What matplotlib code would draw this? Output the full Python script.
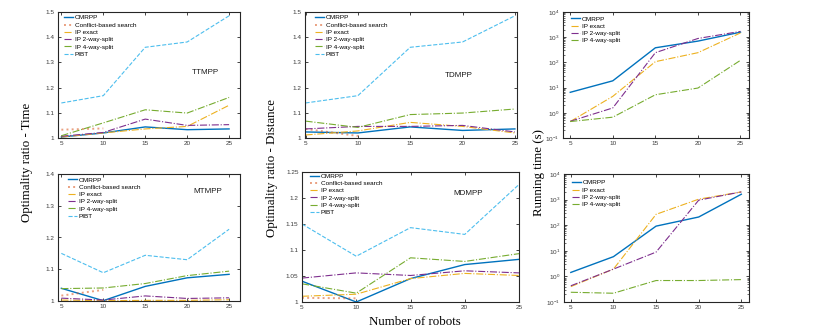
import matplotlib
matplotlib.use("Agg")
import matplotlib.pyplot as plt
from matplotlib.ticker import FuncFormatter, LogLocator, NullFormatter, FixedLocator

plt.rcParams['font.family'] = ['Liberation Sans', 'DejaVu Sans']

robots = [5, 10, 15, 20, 25]
robots_cbs = [5, 10]

# TTMPP (optimality ratio - time)
tt_omrpp = [1.004, 1.020, 1.044, 1.033, 1.036]
tt_cbs = [1.033, 1.038]
tt_ipexact = [1.004, 1.020, 1.036, 1.046, 1.130]
tt_ip2 = [1.007, 1.022, 1.075, 1.050, 1.053]
tt_ip4 = [1.009, 1.060, 1.112, 1.099, 1.161]
tt_pibt = [1.139, 1.168, 1.360, 1.381, 1.485]

# TDMPP (optimality ratio - distance)
td_omrpp = [1.024, 1.020, 1.044, 1.030, 1.036]
td_cbs = [1.036, 1.008]
td_ipexact = [1.012, 1.028, 1.062, 1.046, 1.020]
td_ip2 = [1.036, 1.046, 1.046, 1.050, 1.024]
td_ip4 = [1.067, 1.042, 1.093, 1.099, 1.115]
td_pibt = [1.139, 1.168, 1.360, 1.381, 1.485]

# Running time top row (s)
rt1_omrpp = [6.5, 18.6, 380, 700, 1585]
rt1_ipexact = [0.45, 4.5, 107, 243, 1480]
rt1_ip2 = [0.46, 1.56, 243, 890, 1700]
rt1_ip4 = [0.45, 0.67, 5.2, 9.6, 121]

# MTMPP
mt_omrpp = [1.040, 1.001, 1.046, 1.073, 1.084]
mt_cbs = [1.017, 1.035]
mt_ipexact = [1.003, 1.001, 1.002, 1.002, 1.004]
mt_ip2 = [1.009, 1.003, 1.016, 1.008, 1.010]
mt_ip4 = [1.039, 1.041, 1.055, 1.080, 1.094]
mt_pibt = [1.150, 1.089, 1.144, 1.130, 1.226]

# MDMPP
md_omrpp = [1.040, 1.000, 1.045, 1.072, 1.082]
md_cbs = [1.008, 1.007]
md_ipexact = [1.011, 1.015, 1.045, 1.055, 1.051]
md_ip2 = [1.046, 1.056, 1.051, 1.060, 1.056]
md_ip4 = [1.035, 1.017, 1.085, 1.078, 1.093]
md_pibt = [1.150, 1.088, 1.143, 1.130, 1.226]

# Running time bottom row (s)
rt2_omrpp = [1.43, 5.9, 92, 209, 1620]
rt2_ipexact = [0.40, 1.93, 266, 1040, 2000]
rt2_ip2 = [0.43, 1.93, 8.9, 950, 2000]
rt2_ip4 = [0.24, 0.22, 0.69, 0.69, 0.75]

names = ['OMRPP', 'Conflict-based search', 'IP exact', 'IP 2-way-split',
         'IP 4-way-split', 'PIBT']

C_OM = '#0072BD'
C_CBS = '#D95319'
C_IPE = '#EDB120'
C_IP2 = '#7E2F8E'
C_IP4 = '#77AC30'
C_PIBT = '#4DBEEE'

fig = plt.figure(figsize=(8.3, 3.32), dpi=100)
W, H = 830.0, 332.0


def add_ax(l, r, t, b):
    return fig.add_axes([l / W, (H - b) / H, (r - l) / W, (b - t) / H])


TICKC = '#262626'


def style(ax):
    for s in ax.spines.values():
        s.set_color(TICKC)
        s.set_linewidth(0.8)
    ax.tick_params(direction='in', length=2.5, width=0.6, colors=TICKC,
                   labelsize=4.6, labelcolor='#3a3a3a', top=True, right=True,
                   pad=2.5)
    ax.tick_params(which='minor', direction='in', length=1.4, width=0.4,
                   top=False, right=True)
    ax.set_xticks(robots)
    ax.xaxis.set_major_formatter(FuncFormatter(lambda v, p: '%g' % v))


def ratio_panel(ax, om, cbs, ipe, ip2, ip4, pibt, yl, yticks, label, lpos,
                xl, legpos):
    ax.plot(robots, om, color=C_OM, lw=1.0, ls='-', label=names[0])
    ax.plot(robots_cbs, cbs, color=C_CBS, lw=1.4, ls=':', alpha=0.55,
            label=names[1])
    ax.plot(robots, ipe, color=C_IPE, lw=0.8, ls='-.', label=names[2])
    ax.plot(robots, ip2, color=C_IP2, lw=0.8, ls='-.', label=names[3])
    ax.plot(robots, ip4, color=C_IP4, lw=0.8, ls='-.', label=names[4])
    ax.plot(robots, pibt, color=C_PIBT, lw=0.8, ls='--', label=names[5])
    ax.set_xlim(*xl)
    ax.set_ylim(*yl)
    ax.set_yticks(yticks)
    style(ax)
    ax.yaxis.set_major_formatter(FuncFormatter(lambda v, p: '%g' % round(v, 3)))
    ax.text(lpos[0], lpos[1], label, fontsize=5.8, ha='center', va='center',
            color='#1a1a1a')
    ax.legend(loc='upper left', bbox_to_anchor=legpos, frameon=False,
              fontsize=4.6, handlelength=1.4, handletextpad=0.25,
              labelspacing=0.28, borderaxespad=0, borderpad=0)


def time_panel(ax, om, ipe, ip2, ip4, xl, legpos):
    ax.plot(robots, om, color=C_OM, lw=1.0, ls='-', label=names[0])
    ax.plot(robots, ipe, color=C_IPE, lw=0.8, ls='-.', label=names[2])
    ax.plot(robots, ip2, color=C_IP2, lw=0.8, ls='-.', label=names[3])
    ax.plot(robots, ip4, color=C_IP4, lw=0.8, ls='-.', label=names[4])
    ax.set_yscale('log')
    ax.set_ylim(1e-1, 1e4)
    ax.set_xlim(*xl)
    style(ax)
    ax.yaxis.set_major_locator(FixedLocator([1e-1, 1e0, 1e1, 1e2, 1e3, 1e4]))
    ax.yaxis.set_minor_locator(LogLocator(base=10, subs=range(2, 10)))
    ax.yaxis.set_minor_formatter(NullFormatter())
    ax.legend(loc='upper left', bbox_to_anchor=legpos, frameon=False,
              fontsize=4.6, handlelength=1.4, handletextpad=0.25,
              labelspacing=0.28, borderaxespad=0, borderpad=0)


ax1 = add_ax(58, 240, 12, 138)
ratio_panel(ax1, tt_omrpp, tt_cbs, tt_ipexact, tt_ip2, tt_ip4, tt_pibt,
            (1, 1.5), [1, 1.1, 1.2, 1.3, 1.4, 1.5], 'TTMPP', (22.2, 1.258),
            (4.6, 26.3), (0.033, 0.976))

ax2 = add_ax(305, 517, 12, 138)
ratio_panel(ax2, td_omrpp, td_cbs, td_ipexact, td_ip2, td_ip4, td_pibt,
            (1, 1.5), [1, 1.1, 1.2, 1.3, 1.4, 1.5], 'TDMPP', (19.6, 1.247),
            (4.95, 25.2), (0.047, 0.976))

ax3 = add_ax(563, 749, 12, 138)
time_panel(ax3, rt1_omrpp, rt1_ipexact, rt1_ip2, rt1_ip4, (4.15, 26.0),
           (0.043, 0.968))

ax4 = add_ax(58, 240, 174, 301)
ratio_panel(ax4, mt_omrpp, mt_cbs, mt_ipexact, mt_ip2, mt_ip4, mt_pibt,
            (1, 1.4), [1, 1.1, 1.2, 1.3, 1.4], 'MTMPP', (22.4, 1.344),
            (4.6, 26.3), (0.055, 0.976))

ax5 = add_ax(302, 519, 172, 302)
ratio_panel(ax5, md_omrpp, md_cbs, md_ipexact, md_ip2, md_ip4, md_pibt,
            (1, 1.25), [1, 1.05, 1.1, 1.15, 1.2, 1.25], 'MDMPP', (20.3, 1.208),
            (5, 25), (0.037, 0.99))

ax6 = add_ax(564, 749, 174, 302)
time_panel(ax6, rt2_omrpp, rt2_ipexact, rt2_ip2, rt2_ip4, (4.2, 25.9),
           (0.043, 0.953))

serif = ['Liberation Serif', 'DejaVu Serif']
fig.text(27 / W, 1 - 162 / H, 'Optimality ratio - Time', rotation=90,
         ha='center', va='center', fontsize=9.3, family=serif)
fig.text(272 / W, 1 - 168 / H, 'Optimality ratio - Distance', rotation=90,
         ha='center', va='center', fontsize=9.3, family=serif)
fig.text(539 / W, 1 - 172 / H, 'Running time (s)', rotation=90,
         ha='center', va='center', fontsize=9.3, family=serif)
fig.text(415 / W, 1 - 322 / H, 'Number of robots', ha='center', va='center',
         fontsize=9.3, family=serif)

fig.savefig('out.png', dpi=100, facecolor='white')
